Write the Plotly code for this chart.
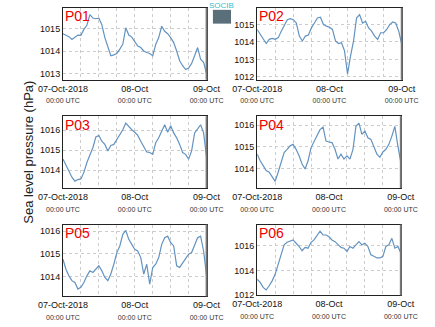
import pandas as pd
import plotly.graph_objects as go

times = pd.date_range("2018-10-07 00:00", "2018-10-09 00:00", freq="h")

p01 = [1014.77, 1014.71, 1014.64, 1014.52, 1014.6, 1014.71, 1014.7, 1014.96, 1015.14, 1015.61,
       1015.46, 1015.43, 1015.46, 1015.17, 1014.6, 1014.16, 1013.8, 1013.84, 1013.9, 1014.09,
       1014.3, 1015.03, 1014.71, 1014.62, 1014.45, 1014.23, 1014.16, 1014.01, 1013.94, 1013.9,
       1013.8, 1014.3, 1014.6, 1015.1, 1014.88, 1014.77, 1014.6, 1014.38, 1014.01, 1013.58,
       1013.36, 1013.19, 1013.26, 1013.46, 1013.8, 1014.16, 1013.65, 1013.51, 1013.0]
p02 = [1014.72, 1014.43, 1014.15, 1013.91, 1014.15, 1014.21, 1014.15, 1014.25, 1014.62, 1015.0,
       1015.28, 1015.34, 1015.28, 1015.09, 1014.34, 1014.06, 1014.34, 1014.4, 1014.81, 1015.09,
       1015.38, 1015.42, 1015.0, 1014.91, 1014.85, 1014.72, 1014.06, 1013.91, 1013.96, 1013.49,
       1012.17, 1013.2, 1014.06, 1015.38, 1015.57, 1015.09, 1015.19, 1014.81, 1014.62, 1014.34,
       1014.15, 1014.53, 1014.53, 1014.72, 1015.0, 1015.15, 1015.09, 1014.62, 1013.87]
p03 = [1014.55, 1014.25, 1013.92, 1013.64, 1013.44, 1013.52, 1013.55, 1013.88, 1014.38, 1014.79,
       1015.12, 1015.67, 1015.74, 1015.45, 1015.29, 1014.96, 1015.24, 1015.29, 1015.54, 1015.83,
       1016.03, 1016.36, 1016.17, 1016.03, 1015.9, 1015.74, 1015.45, 1015.21, 1014.91, 1014.88,
       1014.79, 1015.37, 1015.62, 1015.95, 1016.28, 1015.9, 1016.23, 1015.87, 1015.62, 1015.29,
       1014.88, 1014.79, 1014.55, 1014.96, 1015.87, 1016.07, 1016.28, 1015.87, 1014.63]
p04 = [1014.67, 1014.36, 1014.14, 1013.91, 1013.83, 1013.61, 1013.41, 1013.83, 1014.29, 1014.74,
       1014.89, 1015.05, 1015.12, 1014.89, 1014.59, 1014.21, 1013.98, 1014.36, 1014.97, 1015.27,
       1015.58, 1015.8, 1015.92, 1015.27, 1015.23, 1015.2, 1014.89, 1014.44, 1014.67, 1014.44,
       1014.59, 1014.44, 1014.89, 1015.95, 1016.1, 1015.58, 1015.73, 1015.42, 1015.35, 1014.97,
       1014.67, 1014.52, 1014.77, 1014.89, 1015.12, 1015.5, 1015.95, 1015.05, 1014.29]
p05 = [1014.77, 1014.33, 1014.04, 1013.83, 1013.75, 1013.46, 1013.54, 1013.75, 1014.04, 1014.26,
       1014.19, 1014.33, 1014.48, 1014.26, 1013.97, 1013.83, 1014.12, 1014.55, 1015.06, 1015.35,
       1015.86, 1016.03, 1015.64, 1015.42, 1015.2, 1015.13, 1014.84, 1014.12, 1014.55, 1013.68,
       1014.4, 1014.55, 1014.84, 1015.42, 1015.71, 1015.78, 1015.49, 1015.35, 1014.48, 1014.41,
       1014.62, 1014.84, 1014.99, 1015.06, 1015.42, 1015.71, 1015.78, 1015.13, 1014.04]
p06 = [1013.29, 1013.03, 1012.63, 1012.42, 1012.76, 1013.16, 1013.69, 1014.49, 1015.42, 1016.08,
       1016.29, 1016.4, 1016.48, 1016.21, 1015.95, 1015.6, 1015.87, 1015.81, 1016.29, 1016.48,
       1016.88, 1017.19, 1016.88, 1016.88, 1016.74, 1016.48, 1016.34, 1016.08, 1015.87, 1015.81,
       1015.55, 1015.95, 1015.81, 1016.08, 1016.34, 1016.08, 1016.21, 1015.95, 1015.28, 1015.15,
       1015.02, 1015.02, 1015.15, 1015.95, 1016.08, 1016.61, 1015.81, 1015.95, 1015.42]

names = ["P01", "P02", "P03", "P04", "P05", "P06"]
series = [p01, p02, p03, p04, p05, p06]
y_ranges = [[1012.74, 1015.91], [1011.83, 1015.96], [1013.09, 1016.71],
            [1013.10, 1016.42], [1013.14, 1016.29], [1011.98, 1017.73]]
y_ticks = [[1013, 1014, 1015], [1012, 1013, 1014, 1015], [1014, 1015, 1016],
           [1014, 1015, 1016], [1014, 1015, 1016], [1012, 1014, 1016]]
y_title = "Sea level pressure (hPa)"

tick_vals = pd.date_range("2018-10-07 00:00", "2018-10-09 00:00", freq="6h")
sub = "<br><span style='font-size:7px;color:#333'>00:00 UTC</span>"
day_labels = {0: "07-Oct-2018", 4: "08-Oct", 8: "09-Oct"}
tick_text = [(day_labels[i] + sub) if i in day_labels else "" for i in range(len(tick_vals))]

W, H = 435, 327
boxes = [(42, 201, 8, 81), (257, 417, 8, 81),
         (42, 201, 118, 191), (257, 416, 118, 191),
         (42, 201, 228, 301), (257, 416, 228, 300)]

fig = go.Figure()
layout = dict(width=W, height=H, margin=dict(l=0, r=0, t=0, b=0),
              paper_bgcolor="white", plot_bgcolor="white", showlegend=False)
annotations = []
shapes = []
for i, (nm, vals, yr, yt, box) in enumerate(zip(names, series, y_ranges, y_ticks, boxes)):
    k = "" if i == 0 else str(i + 1)
    x0, x1, y0, y1 = box
    fig.add_trace(go.Scatter(x=times, y=vals, mode="lines",
                             line=dict(color="#6393c0", width=1.2),
                             xaxis="x" + k, yaxis="y" + k))
    layout["xaxis" + k] = dict(
        domain=[x0 / W, x1 / W], anchor="y" + k, type="date",
        range=[times[0], times[-1]], tickvals=list(tick_vals), ticktext=tick_text,
        tickangle=0, showline=True, mirror=True, linecolor="#222", linewidth=1,
        showgrid=True, gridcolor="#cccccc", griddash="dot", gridwidth=1,
        ticks="", tickfont=dict(family="Liberation Sans, Arial", size=9, color="#111"),
        zeroline=False, fixedrange=True)
    ya = dict(
        domain=[1 - y1 / H, 1 - y0 / H], anchor="x" + k, range=yr,
        tickvals=yt, ticktext=[str(v) for v in yt],
        showline=True, mirror=True, linecolor="#222", linewidth=1,
        showgrid=True, gridcolor="#cccccc", griddash="dot", gridwidth=1,
        ticks="", tickfont=dict(family="Liberation Sans, Arial", size=9, color="#111"),
        zeroline=False, fixedrange=True)
    if i == 2:
        ya["title"] = dict(text=y_title, standoff=3,
                           font=dict(family="Liberation Sans, Arial", size=13, color="#222"))
    layout["yaxis" + k] = ya
    annotations.append(dict(text=nm, xref="x" + k + " domain", yref="y" + k + " domain",
                            x=0.0, y=1.02, xanchor="left", yanchor="top", showarrow=False,
                            font=dict(family="Liberation Sans, Arial", size=14, color="#ee0000")))
    shapes.append(dict(type="line", xref="x" + k + " domain", yref="y" + k + " domain",
                       x0=1, x1=1, y0=0, y1=1, line=dict(color="#777", width=2)))

annotations.append(dict(text="SOCIB", xref="paper", yref="paper",
                        x=218 / W, y=1 - 6 / H, xanchor="center", yanchor="middle",
                        showarrow=False,
                        font=dict(family="Liberation Sans, Arial", size=8, color="#38bccc")))
shapes.append(dict(type="rect", xref="paper", yref="paper",
                   x0=208 / W, x1=228 / W, y0=1 - 24 / H, y1=1 - 10 / H,
                   line=dict(width=0), fillcolor="#5b6f7b"))
layout["annotations"] = annotations
layout["shapes"] = shapes
fig.update_layout(**layout)
fig.write_html("out.html")
